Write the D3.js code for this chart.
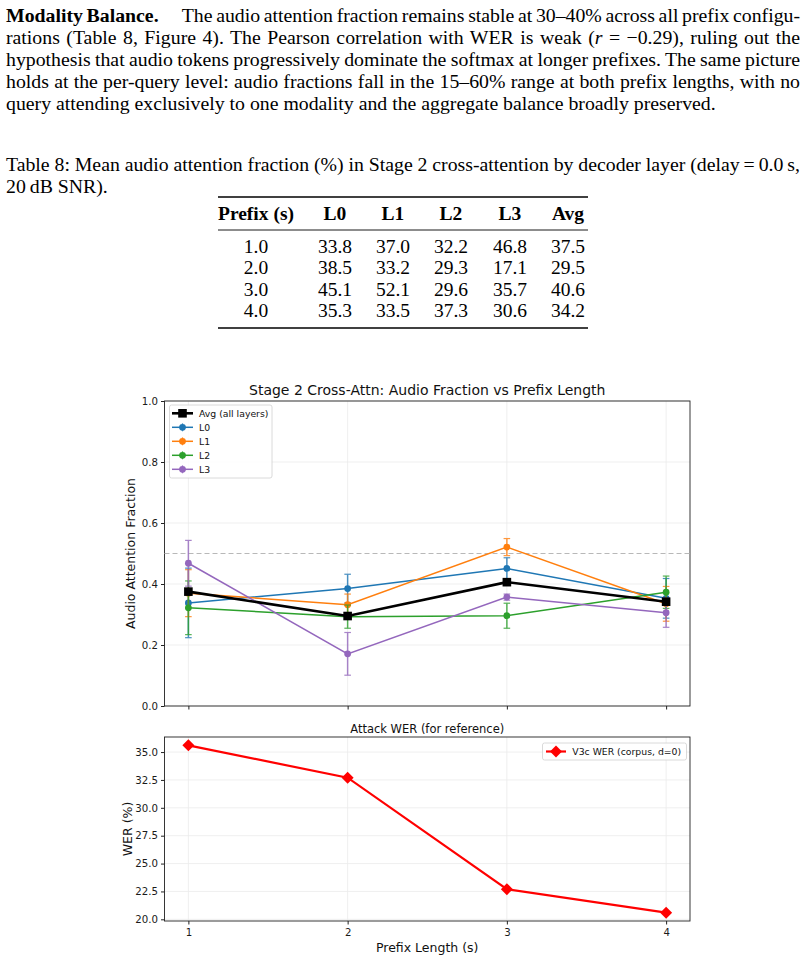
<!DOCTYPE html>
<html>
<head>
<meta charset="utf-8">
<script src="https://cdnjs.cloudflare.com/ajax/libs/d3/7.8.5/d3.min.js"></script>
<style>
  body { margin: 0; background: #fff; }
</style>
</head>
<body>
<script>
// ---- data ----
var prefixes = [1, 2, 3, 4];
var prefixLabels = ["1.0", "2.0", "3.0", "4.0"];
var layerNames = ["L0", "L1", "L2", "L3"];
var l0 = [33.8, 38.5, 45.1, 35.3];
var l1 = [37.0, 33.2, 52.1, 33.5];
var l2 = [32.2, 29.3, 29.6, 37.3];
var l3 = [46.8, 17.1, 35.7, 30.6];
var avg = [37.5, 29.5, 40.6, 34.2];
// error bars (%)
var l0Err = [11.4, 4.7, 3.5, 6.5];
var l1Err = [7.7, 3.5, 2.8, 5.7];
var l2Err = [8.8, 3.8, 4.1, 5.3];
var l3Err = [7.5, 7.0, 1.0, 4.8];
var wer = [35.6, 32.7, 22.7, 20.6];
var yTicksTop = [0, 0.2, 0.4, 0.6, 0.8, 1.0];
var yTicksWer = [20.0, 22.5, 25.0, 27.5, 30.0, 32.5, 35.0];

var colors = ["#1f77b4", "#ff7f0e", "#2ca02c", "#9467bd"];
var layers = [
  {name: layerNames[0], vals: l0, err: l0Err, color: colors[0]},
  {name: layerNames[1], vals: l1, err: l1Err, color: colors[1]},
  {name: layerNames[2], vals: l2, err: l2Err, color: colors[2]},
  {name: layerNames[3], vals: l3, err: l3Err, color: colors[3]}
];

var svg = d3.select("body").append("svg").attr("width", 808).attr("height", 962);
var serif = "Liberation Serif, serif";

// ---- paragraph + caption (justified lines, word-spacing fitted) ----
var textLines = [
  {y: 22, j: true, segs: [{t: "Modality Balance.", b: true}, {t: "\u2003 The audio attention fraction remains stable at 30–40% across all prefix configu-"}]},
  {y: 44, j: true, segs: [{t: "rations (Table 8, Figure 4). The Pearson correlation with WER is weak ("}, {t: "r", i: true}, {t: " = −0.29), ruling out the"}]},
  {y: 66, j: true, segs: [{t: "hypothesis that audio tokens progressively dominate the softmax at longer prefixes. The same picture"}]},
  {y: 88, j: true, segs: [{t: "holds at the per-query level: audio fractions fall in the 15–60% range at both prefix lengths, with no"}]},
  {y: 110, j: false, segs: [{t: "query attending exclusively to one modality and the aggregate balance broadly preserved."}]},
  {y: 171, j: true, segs: [{t: "Table 8: Mean audio attention fraction (%) in Stage 2 cross-attention by decoder layer (delay\u2009=\u20090.0\u2009s,"}]},
  {y: 193, j: false, segs: [{t: "20\u2009dB SNR)."}]}
];
var lineW = 794;
textLines.forEach(function(ln) {
  var t = svg.append("text").attr("x", 6).attr("y", ln.y)
    .attr("font-family", serif).attr("font-size", 19.8).attr("fill", "#000")
    .style("white-space", "pre");
  ln.segs.forEach(function(s) {
    t.append("tspan").attr("font-weight", s.b ? "bold" : null).attr("font-style", s.i ? "italic" : null).text(s.t);
  });
  if (ln.j) {
    var w = t.node().getComputedTextLength();
    var n = ln.segs.map(function(s) { return s.t; }).join("").split(" ").length - 1;
    t.attr("word-spacing", (lineW - w) / n);
  }
});

// ---- table ----
var tbl = svg.append("g").attr("font-family", serif).attr("font-size", 19.5);
var colX = [256, 335, 393, 451, 510, 568];
var header = ["Prefix (s)"].concat(layerNames, ["Avg"]);
tbl.selectAll("text.h").data(header).enter().append("text")
  .attr("x", function(d, i) { return colX[i]; })
  .attr("y", 220).attr("text-anchor", "middle").attr("font-weight", "bold")
  .text(function(d) { return d; });
var rows = prefixes.map(function(p, i) {
  return [prefixLabels[i], l0[i], l1[i], l2[i], l3[i], avg[i]];
});
var rowY = d3.scalePoint().domain(prefixes).range([252.5, 317]);
rows.forEach(function(r, ri) {
  tbl.selectAll(null).data(r).enter().append("text")
    .attr("x", function(d, i) { return colX[i]; })
    .attr("y", rowY(prefixes[ri])).attr("text-anchor", "middle")
    .text(function(d, i) { return i === 0 ? d : d3.format(".1f")(d); });
});
tbl.append("line").attr("x1", 218).attr("x2", 588).attr("y1", 197).attr("y2", 197).attr("stroke", "#000").attr("stroke-width", 1.6);
tbl.append("line").attr("x1", 218).attr("x2", 588).attr("y1", 230).attr("y2", 230).attr("stroke", "#000").attr("stroke-width", 0.9);
tbl.append("line").attr("x1", 218).attr("x2", 588).attr("y1", 328).attr("y2", 328).attr("stroke", "#000").attr("stroke-width", 1.6);

// ---- charts ----
var L = 164.5, R = 690;
var x = d3.scaleLinear().domain([0.85, 4.15]).range([L, R]);
var yA = d3.scaleLinear().domain([0, 1]).range([706, 401]);
var yW = d3.scaleLinear().domain([19.85, 36.35]).range([921, 737]);
var font = "DejaVu Sans, sans-serif";
var gridCol = "#ebebeb";

function frame(g, y, ticks, fmt, showX) {
  var top = y.range()[1], bot = y.range()[0];
  g.selectAll("line.gx").data(prefixes).enter().append("line")
    .attr("x1", function(d) { return x(d); }).attr("x2", function(d) { return x(d); })
    .attr("y1", top).attr("y2", bot).attr("stroke", gridCol).attr("stroke-width", 0.8);
  g.selectAll("line.gy").data(ticks).enter().append("line")
    .attr("x1", L).attr("x2", R)
    .attr("y1", function(d) { return y(d); }).attr("y2", function(d) { return y(d); })
    .attr("stroke", gridCol).attr("stroke-width", 0.8);
  var ay = g.append("g").attr("transform", "translate(" + L + ",0)")
    .call(d3.axisLeft(y).tickValues(ticks).tickFormat(d3.format(fmt)).tickSize(3.5).tickPadding(3).tickSizeOuter(0));
  var ax = g.append("g").attr("transform", "translate(0," + bot + ")")
    .call(d3.axisBottom(x).tickValues(prefixes).tickSize(3.5).tickPadding(4).tickSizeOuter(0)
      .tickFormat(showX ? d3.format("d") : ""));
  [ay, ax].forEach(function(a) {
    a.select(".domain").remove();
    a.selectAll("line").attr("stroke", "#222");
    a.selectAll("text").attr("font-family", font).attr("font-size", 10.2).attr("fill", "#1a1a1a");
  });
  g.append("rect").attr("x", L).attr("y", top).attr("width", R - L).attr("height", bot - top)
    .attr("fill", "none").attr("stroke", "#222").attr("stroke-width", 0.9);
}

// top chart
var g1 = svg.append("g");
frame(g1, yA, yTicksTop, ".1f", false);
g1.append("line").attr("x1", L).attr("x2", R).attr("y1", yA(0.5)).attr("y2", yA(0.5))
  .attr("stroke", "#b8b8b8").attr("stroke-width", 1).attr("stroke-dasharray", "5,3");

var line = d3.line().x(function(d) { return x(d.p); }).y(function(d) { return yA(d.v / 100); });

layers.forEach(function(s) {
  var pts = prefixes.map(function(p, i) { return {p: p, v: s.vals[i], e: s.err[i]}; });
  var gs = g1.append("g");
  gs.append("path").datum(pts).attr("d", line).attr("fill", "none")
    .attr("stroke", s.color).attr("stroke-width", 1.5);
  var eb = gs.selectAll("g.eb").data(pts).enter().append("g").attr("opacity", 0.8);
  eb.append("line").attr("x1", function(d) { return x(d.p); }).attr("x2", function(d) { return x(d.p); })
    .attr("y1", function(d) { return yA((d.v - d.e) / 100); }).attr("y2", function(d) { return yA((d.v + d.e) / 100); })
    .attr("stroke", s.color).attr("stroke-width", 1.5);
  [-1, 1].forEach(function(sg) {
    eb.append("line").attr("x1", function(d) { return x(d.p) - 3.3; }).attr("x2", function(d) { return x(d.p) + 3.3; })
      .attr("y1", function(d) { return yA((d.v + sg * d.e) / 100); }).attr("y2", function(d) { return yA((d.v + sg * d.e) / 100); })
      .attr("stroke", s.color).attr("stroke-width", 1.2);
  });
  gs.selectAll("circle").data(pts).enter().append("circle")
    .attr("cx", function(d) { return x(d.p); }).attr("cy", function(d) { return yA(d.v / 100); })
    .attr("r", 3.4).attr("fill", s.color);
});

var avgPts = prefixes.map(function(p, i) { return {p: p, v: avg[i]}; });
g1.append("path").datum(avgPts).attr("d", line).attr("fill", "none").attr("stroke", "#000").attr("stroke-width", 2.6);
g1.selectAll("rect.sq").data(avgPts).enter().append("rect")
  .attr("x", function(d) { return x(d.p) - 4.3; }).attr("y", function(d) { return yA(d.v / 100) - 4.3; })
  .attr("width", 8.6).attr("height", 8.6).attr("fill", "#000");

g1.append("text").attr("x", (L + R) / 2).attr("y", 395).attr("text-anchor", "middle")
  .attr("font-family", font).attr("font-size", 14).attr("fill", "#111")
  .text("Stage 2 Cross-Attn: Audio Fraction vs Prefix Length");
g1.append("text").attr("transform", "translate(135," + (yA(0.5)) + ") rotate(-90)")
  .attr("text-anchor", "middle").attr("font-family", font).attr("font-size", 12.5).attr("fill", "#111")
  .text("Audio Attention Fraction");

// top legend
var lg = g1.append("g");
lg.append("rect").attr("x", 169.5).attr("y", 405).attr("width", 102.5).attr("height", 73).attr("rx", 2)
  .attr("fill", "#fff").attr("fill-opacity", 0.85).attr("stroke", "#d0d0d0").attr("stroke-width", 0.8);
var legItems = [{name: "Avg (all layers)", color: "#000", avg: true}].concat(layers);
legItems.forEach(function(d, i) {
  var yy = 413.3 + i * 14;
  var it = lg.append("g");
  it.append("line").attr("x1", 172).attr("x2", 193).attr("y1", yy).attr("y2", yy)
    .attr("stroke", d.color).attr("stroke-width", d.avg ? 2.6 : 1.5);
  if (d.avg) {
    it.append("rect").attr("x", 182.5 - 4.3).attr("y", yy - 4.3).attr("width", 8.6).attr("height", 8.6).attr("fill", "#000");
  } else {
    it.append("line").attr("x1", 182.5).attr("x2", 182.5).attr("y1", yy - 4).attr("y2", yy + 4)
      .attr("stroke", d.color).attr("stroke-width", 1.2).attr("opacity", 0.8);
    it.append("circle").attr("cx", 182.5).attr("cy", yy).attr("r", 3.4).attr("fill", d.color);
  }
  it.append("text").attr("x", 199).attr("y", yy + 3.3).attr("font-family", font).attr("font-size", 9.3)
    .attr("fill", "#111").text(d.name);
});

// bottom chart
var g2 = svg.append("g");
frame(g2, yW, yTicksWer, ".1f", true);
var wline = d3.line().x(function(d) { return x(d.p); }).y(function(d) { return yW(d.v); });
var werPts = prefixes.map(function(p, i) { return {p: p, v: wer[i]}; });
g2.append("path").datum(werPts).attr("d", wline).attr("fill", "none").attr("stroke", "#ff0000").attr("stroke-width", 2.2);
var diamond = d3.symbol().type(d3.symbolSquare).size(72);
g2.selectAll("path.dm").data(werPts).enter().append("path")
  .attr("d", diamond)
  .attr("transform", function(d) { return "translate(" + x(d.p) + "," + yW(d.v) + ") rotate(45)"; })
  .attr("fill", "#ff0000");
g2.append("text").attr("x", (L + R) / 2).attr("y", 733).attr("text-anchor", "middle")
  .attr("font-family", font).attr("font-size", 11.5).attr("fill", "#111").text("Attack WER (for reference)");
g2.append("text").attr("transform", "translate(132," + ((921 + 737) / 2) + ") rotate(-90)")
  .attr("text-anchor", "middle").attr("font-family", font).attr("font-size", 12.5).attr("fill", "#111")
  .text("WER (%)");
g2.append("text").attr("x", (L + R) / 2).attr("y", 952).attr("text-anchor", "middle")
  .attr("font-family", font).attr("font-size", 12.5).attr("fill", "#111").text("Prefix Length (s)");

var lg2 = g2.append("g");
lg2.append("rect").attr("x", 542.5).attr("y", 743).attr("width", 144).attr("height", 17).attr("rx", 2)
  .attr("fill", "#fff").attr("fill-opacity", 0.85).attr("stroke", "#d0d0d0").attr("stroke-width", 0.8);
lg2.append("line").attr("x1", 546).attr("x2", 566).attr("y1", 751.5).attr("y2", 751.5).attr("stroke", "#ff0000").attr("stroke-width", 2.2);
lg2.append("path").attr("d", diamond).attr("transform", "translate(556,751.5) rotate(45)").attr("fill", "#ff0000");
lg2.append("text").attr("x", 572.3).attr("y", 754.8).attr("font-family", font).attr("font-size", 9.3)
  .attr("fill", "#111").text("V3c WER (corpus, d=0)");
</script>
</body>
</html>
